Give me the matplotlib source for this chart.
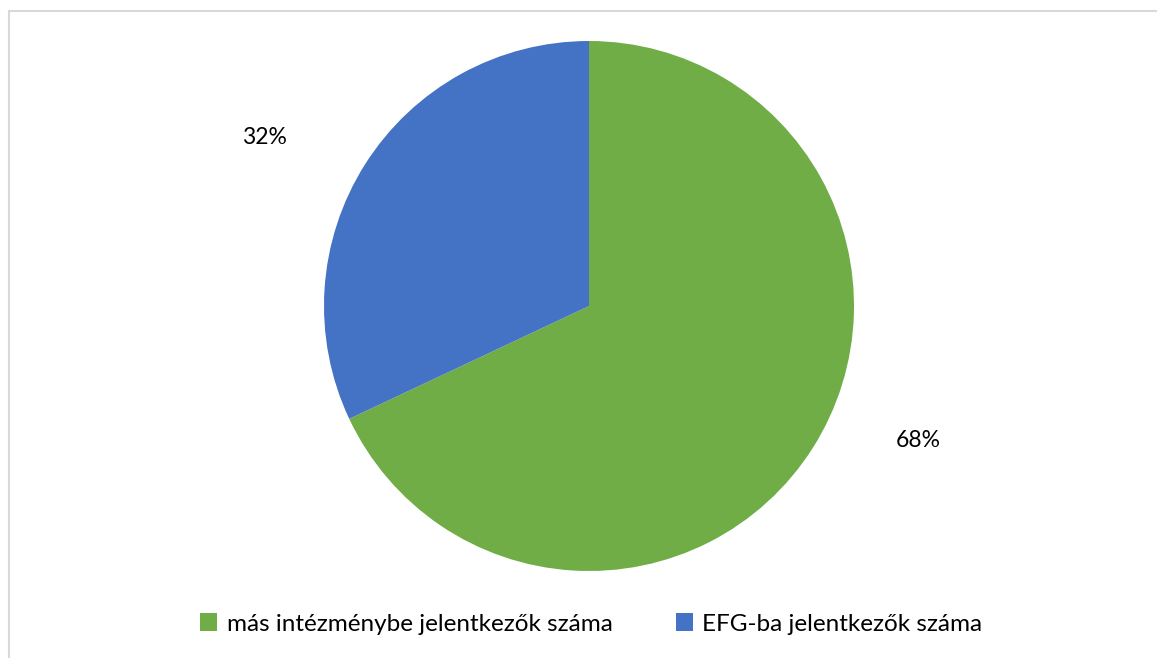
import matplotlib

matplotlib.use("Agg")
import matplotlib.pyplot as plt
from matplotlib.patches import Patch, Rectangle

labels = ["más intézménybe jelentkezők száma", "EFG-ba jelentkezők száma"]
shares = [68, 32]
colors = ["#70AD47", "#4472C4"]

plt.rcParams["font.family"] = ["Lato", "DejaVu Sans"]

W, H = 1157, 658
fig = plt.figure(figsize=(W / 100, H / 100), dpi=100)

# light gray chart frame (right/bottom edges fall outside the crop)
fig.patches.append(Rectangle((8.5 / W, -0.1), 1.2, (H - 11.5) / H + 0.1,
                             transform=fig.transFigure, fill=False,
                             edgecolor="#d9d9d9", lw=1.5))

cx, cy, r = 589, 306, 265
ax = fig.add_axes([(cx - r) / W, (H - cy - r) / H, 2 * r / W, 2 * r / H])
wedges, _, autotexts = ax.pie(shares, colors=colors, startangle=90, counterclock=False,
                              autopct="%d%%", radius=1.0,
                              textprops=dict(fontsize=16.5, color="black"))
# label placement like the original (outside the slices)
autotexts[0].set_position((1.242, -0.506))
autotexts[1].set_position((-1.226, 0.634))
ax.set_xlim(-1, 1)
ax.set_ylim(-1, 1)
ax.set_aspect("equal")
ax.axis("off")

handles = [Patch(facecolor=c, edgecolor="none") for c in colors]
fig.legend(handles, labels, loc="center", bbox_to_anchor=(0.511, 1 - 624 / H),
           ncol=2, frameon=False, fontsize=17.5, handlelength=0.7, handleheight=0.7,
           handletextpad=0.4, columnspacing=2.6)

fig.savefig("out.png", dpi=100)
